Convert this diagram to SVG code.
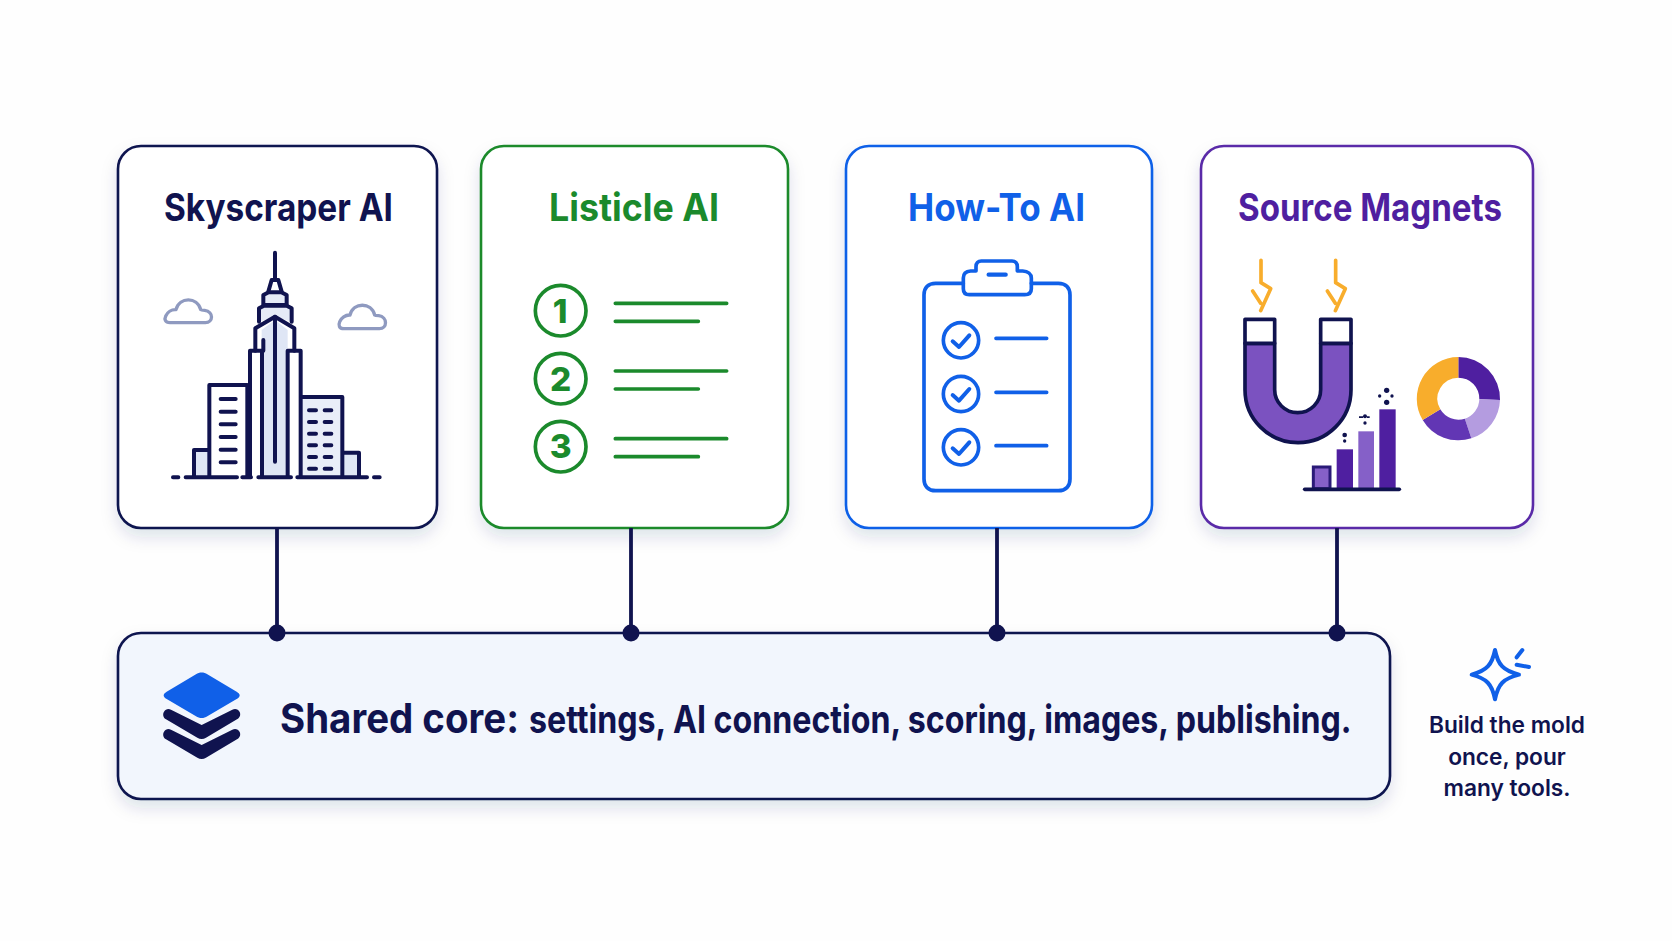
<svg xmlns="http://www.w3.org/2000/svg" width="1672" height="941" viewBox="0 0 1672 941">
<defs>
<filter id="lift" x="-15%" y="-15%" width="130%" height="135%"><feDropShadow dx="0" dy="8" stdDeviation="8" flood-color="#1a2a60" flood-opacity="0.13"/></filter>
</defs>
<style>
text{font-family:Inter,"Liberation Sans",sans-serif;}
.title{font-size:38px;font-weight:700;}
.card{fill:#fff;stroke-width:2.6;filter:url(#lift);}
.ink{fill:none;stroke-linecap:round;stroke-linejoin:round;}
.navy{stroke:#10134f;}
.green{stroke:#1b8a2c;}
.blue{stroke:#1060e8;}
.cloud{fill:none;stroke:#8f9ac0;stroke-width:10;stroke-linejoin:round;}
.num{font-size:100px;font-weight:800;fill:#1b8a2c;text-anchor:middle;}
.side{font-size:22.7px;font-weight:600;fill:#10134f;text-anchor:middle;}
.core-a{font-size:41px;font-weight:700;fill:#10134f;}
.core-b{font-size:38px;font-weight:700;fill:#10134f;}
.link{stroke:#10134f;stroke-width:3.8;fill:none;}
.dot{fill:#10134f;}
.tick{fill:#10134f;}
</style>
<rect width="1672" height="941" fill="#fefefe"/>

<g id="card-skyscraper">
<rect class="card" x="118" y="146" width="319" height="382" rx="23" stroke="#10134f"/>
<text class="title" x="164" y="221" fill="#10134f" textLength="229" lengthAdjust="spacingAndGlyphs">Skyscraper AI</text>
<g transform="translate(110 140) scale(.33333)">
<path class="cloud" d="M180 548H286C310 548 312 515 284 511C276 511 274 511 272 509C262 470 208 470 198 509C170 507 150 548 180 548Z"/>
<path class="cloud" d="M702 566H808C832 566 834 531 806 527C798 527 796 527 794 525C784 486 730 486 720 525C692 523 672 566 702 566Z"/>
<path d="M436 632V565L495 530L553 565V632H572V1010H420V632Z" fill="#fff"/>
<path d="M455 632V570L495 540L533 570V1010H455Z" fill="#dfe6f5"/>
<path d="M447 545V510L462 500H530L545 510V545L495 530Z" fill="#e6ebf7"/>
<path d="M460 497V467L475 457H515L528 467V497Z" fill="#e6ebf7"/>
<rect x="252" y="930" width="46" height="80" fill="#dfe6f5"/>
<rect x="700" y="938" width="47" height="72" fill="#dfe6f5"/>
<rect x="575" y="771" width="122" height="239" fill="#e9eef8"/>
<g class="ink navy" stroke-width="12">
<path d="M495 338V415"/>
<path d="M475 455L485 420H505L515 455"/>
<path d="M460 495V465L476 457H514L530 465V495Z"/>
<path d="M447 545V505L462 497H530L545 505V545"/>
<path d="M460 632V600M436 632V565L495 530L553 565V632"/>
<path d="M495 530V965"/>
<path d="M456 1010V632H420V1010M533 1010V632H572V1010"/>
<path d="M412 1010V735H298V1010M298 930H252V1010"/>
<path d="M575 771H697V1010M700 938H747V1010"/>
<path d="M332 777H377M332 815H377M332 853H377M332 891H377M332 929H377M332 967H377"/>
<path d="M597 811H618M644 811H664M597 846H618M644 846H664M597 881H618M644 881H664M597 916H618M644 916H664M597 951H618M644 951H664M597 986H618M644 986H664"/>
<path d="M189 1012H205M227 1012H381M397 1012H423M445 1012H543M562 1012H771M792 1012H809"/>
</g>
</g>
</g>

<g id="card-listicle">
<rect class="card" x="481" y="146" width="307" height="382" rx="23" stroke="#1b8a2c"/>
<text class="title" x="549" y="221" fill="#1b8a2c" textLength="170" lengthAdjust="spacingAndGlyphs">Listicle AI</text>
<g transform="translate(470 140) scale(.33333)">
<g class="ink green" stroke-width="11">
<circle cx="272" cy="512" r="76"/><circle cx="272" cy="716" r="76"/><circle cx="272" cy="920" r="76"/>
<path d="M436 490H770M436 544H685M436 693H770M436 747H685M436 896H770M436 950H685"/>
</g>
<text class="num" x="270" y="548">1</text>
<text class="num" x="272" y="752">2</text>
<text class="num" x="272" y="954">3</text>
</g>
</g>

<g id="card-howto">
<rect class="card" x="846" y="146" width="306" height="382" rx="23" stroke="#1060e8"/>
<text class="title" x="908" y="221" fill="#1060e8" textLength="177" lengthAdjust="spacingAndGlyphs">How-To AI</text>
<g transform="translate(840 140) scale(.33333)">
<g class="ink blue" stroke-width="11">
<path d="M370 430H287C265 430 252 443 252 465V1017C252 1039 265 1052 287 1052H655C677 1052 690 1039 690 1017V465C690 443 677 430 655 430H574"/>
<path d="M388 464C376 464 370 458 370 446V414C370 402 378 394 392 393H408V380C408 370 414 363 424 363H516C526 363 532 370 532 380V393H548C564 394 574 402 574 414V446C574 458 566 464 554 464Z"/>
<path d="M446 404H497" stroke-width="13"/>
<circle cx="363" cy="601" r="53"/><circle cx="363" cy="762" r="53"/><circle cx="363" cy="922" r="53"/>
<path d="M338 604L357 621L388 586M338 765L357 782L388 747M338 925L357 942L388 907" stroke-width="12"/>
<path d="M468 595H620M468 757H620M468 917H620"/>
</g>
</g>
</g>

<g id="card-magnets">
<rect class="card" x="1201" y="146" width="332" height="382" rx="23" stroke="#5a2ca8"/>
<text class="title" x="1238" y="221" fill="#4f1fa0" textLength="264" lengthAdjust="spacingAndGlyphs">Source Magnets</text>
<g transform="translate(1190 140) scale(.33333)">
<g class="ink" stroke="#f8ad2c" stroke-width="11">
<path d="M213 361V428L242 446L212 512M188 453L212 490"/>
<path d="M437 361V428L466 446L436 512M412 453L436 490"/>
</g>
<path d="M165 610V749A159 159 0 0 0 483 749V610H392V749A69 69 0 0 1 254 749V610Z" fill="#7b52c0" stroke="#10134f" stroke-width="11" stroke-linejoin="round"/>
<rect x="165" y="538" width="89" height="72" fill="#fff" stroke="#10134f" stroke-width="11" stroke-linejoin="round"/>
<rect x="392" y="538" width="91" height="72" fill="#fff" stroke="#10134f" stroke-width="11" stroke-linejoin="round"/>
<rect x="370" y="981" width="50" height="65" fill="#8560c8" stroke="#2a1a78" stroke-width="9"/>
<rect x="440" y="928" width="49" height="118" fill="#4f1fa0"/>
<rect x="505" y="874" width="47" height="172" fill="#8560c8"/>
<rect x="568" y="808" width="49" height="238" fill="#4f1fa0"/>
<path d="M344 1048H628" stroke="#10134f" stroke-width="11" stroke-linecap="round"/>
<g class="tick">
<circle cx="464" cy="885" r="7"/><circle cx="464" cy="903" r="5"/>
<path d="M507 829h12v5h-12zM531 829h8v5h-8z"/><circle cx="525" cy="829" r="6"/><circle cx="525" cy="849" r="5"/>
<circle cx="590" cy="751" r="8"/><circle cx="569" cy="768" r="5"/><circle cx="606" cy="768" r="5"/><circle cx="590" cy="787" r="8"/>
</g>
<path d="M805 651A125 125 0 0 1 930 780L868 778A63 63 0 0 0 805 713Z" fill="#4f1fa0"/>
<path d="M930 780A125 125 0 0 1 844 895L824.5 836A63 63 0 0 0 868 778Z" fill="#b49ce0"/>
<path d="M844 895A125 125 0 0 1 698 840L751 808A63 63 0 0 0 824.5 836Z" fill="#6236b4"/>
<path d="M698 840A125 125 0 0 1 805 651V713A63 63 0 0 0 751 808Z" fill="#f8ad2c"/>
</g>
</g>

<g id="core">
<rect class="card" x="118" y="633" width="1272" height="166" rx="23" stroke="#10134f" style="fill:#f2f6fd"/>
<g transform="translate(100 610) scale(.33333)">
<path d="M288 193C298 186 312 186 322 193L410 245C422 252 422 260 410 267L322 319C312 326 298 326 288 319L200 267C188 260 188 252 200 245Z" fill="#1060e8"/>
<path d="M192 305C197 297 205 295 213 299L305 345L397 299C405 295 415 297 419 306C423 315 419 323 411 328L318 383C310 388 300 388 292 383L198 328C190 323 187 313 192 305Z" fill="#10134f"/>
<path d="M192 365C197 357 205 355 213 359L305 405L397 359C405 355 415 357 419 366C423 375 419 383 411 388L318 443C310 448 300 448 292 443L198 388C190 383 187 373 192 365Z" fill="#10134f"/>
</g>
<text class="core-a" x="280" y="733" textLength="239" lengthAdjust="spacingAndGlyphs">Shared core:</text>
<text class="core-b" transform="translate(529 733) scale(.82 1)" textLength="1003" lengthAdjust="spacingAndGlyphs">settings, AI connection, scoring, images, publishing.</text>
</g>

<g id="note">
<g transform="translate(1340 620) scale(.33333)">
<g class="ink blue" stroke-width="12">
<path d="M465 90C474 135 490 152 537 164C490 176 474 192 465 238C456 192 440 176 395 164C440 152 456 135 465 90Z"/>
<path d="M530 112L547 90M530 134L567 141"/>
</g>
</g>
<text class="side" x="1507" y="733">Build the mold</text>
<text class="side" x="1507" y="765">once, pour</text>
<text class="side" x="1507" y="796">many tools.</text>
</g>

<g id="connectors">
<path class="link" d="M277 528V633M631 528V633M997 528V633M1337 528V633"/>
<circle class="dot" cx="277" cy="633" r="8.5"/>
<circle class="dot" cx="631" cy="633" r="8.5"/>
<circle class="dot" cx="997" cy="633" r="8.5"/>
<circle class="dot" cx="1337" cy="633" r="8.5"/>
</g>
</svg>
